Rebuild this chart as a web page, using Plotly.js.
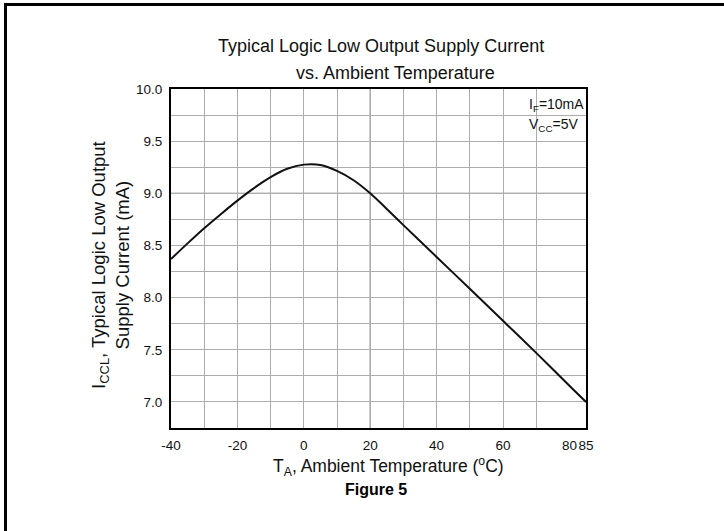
<!DOCTYPE html>
<html>
<head>
<meta charset="utf-8">
<script src="https://cdn.plot.ly/plotly-3.0.1.min.js"></script>
<style>
  html, body { margin: 0; padding: 0; background: #fff; }
  #wrap { position: relative; width: 724px; height: 531px; overflow: hidden; }
  #chart { position: absolute; left: 0; top: 0; width: 724px; height: 531px; }
  #frame { position: absolute; left: 4px; top: 3px; width: 760px; height: 560px;
           border-left: 3px solid #000; border-top: 3px solid #000; pointer-events: none; }
</style>
</head>
<body>
<div id="wrap">
  <div id="chart"></div>
  <div id="frame"></div>
</div>
<script>
// ---- data ----
const temperatureC = [-40, -35, -30, -25, -20, -15, -10, -5, 0, 5, 10, 15, 20, 25, 30, 40, 50, 60, 70, 80, 85];
const supplyCurrentMA = [8.37, 8.52, 8.665, 8.80, 8.93, 9.05, 9.155, 9.235, 9.275, 9.272, 9.215, 9.125, 9.00, 8.85, 8.695, 8.39, 8.085, 7.778, 7.47, 7.155, 7.00];

const xTickVals = [-40, -20, 0, 20, 40, 60, 80, 85];
const xTickText = ['-40', '-20', '0', '20', '40', '60', '80', '85'];
const xGridVals = [-30, -20, -10, 0, 10, 20, 30, 40, 50, 60, 70];
const yTickVals = [7.0, 7.5, 8.0, 8.5, 9.0, 9.5, 10.0];
const xRange = [-40, 85];
const yRange = [6.75, 10.0];
const darkGridX = 20;
const darkGridY = 9.0;

const titleLine1 = 'Typical Logic Low Output Supply Current';
const titleLine2 = 'vs. Ambient Temperature';
const yTitle = 'I<sub>CCL</sub>, Typical Logic Low Output<br>Supply Current (mA)';
const xTitle = 'T<sub>A</sub>, Ambient Temperature (<sup>o</sup>C)';
const figureLabel = '<b>Figure 5</b>';
const condition1 = 'I<sub>F</sub>=10mA';
const condition2 = 'V<sub>CC</sub>=5V';

// ---- styling ----
const FONT = 'Liberation Sans, Arial, Helvetica, sans-serif';
const gridColor = '#adadad';
const darkGrid = '#555555';

const curve = {
  x: temperatureC,
  y: supplyCurrentMA,
  type: 'scatter',
  mode: 'lines',
  line: { color: '#111', width: 2, shape: 'spline', smoothing: 0.8 },
  hoverinfo: 'skip',
  showlegend: false
};
// empty trace so the overlaid grid axis (x2) gets a subplot and draws its grid
const gridHolder = {
  x: [], y: [], xaxis: 'x2', yaxis: 'y', type: 'scatter', mode: 'lines',
  hoverinfo: 'skip', showlegend: false
};

const layout = {
  width: 724,
  height: 531,
  margin: { l: 171, r: 138, t: 89, b: 103, pad: 0 },
  paper_bgcolor: '#fff',
  plot_bgcolor: '#fff',
  showlegend: false,
  font: { family: FONT, color: '#111' },
  xaxis: {
    range: xRange,
    tickmode: 'array',
    tickvals: xTickVals,
    ticktext: xTickText,
    tickangle: 0,
    showgrid: false,
    zeroline: false,
    ticks: '',
    ticklabelstandoff: 4,
    showline: true,
    mirror: true,
    linecolor: '#000',
    linewidth: 2,
    tickfont: { family: FONT, size: 13.5, color: '#111' }
  },
  xaxis2: {
    overlaying: 'x',
    anchor: 'y',
    side: 'bottom',
    range: xRange,
    tickmode: 'array',
    tickvals: xGridVals,
    showticklabels: false,
    showgrid: true,
    gridcolor: gridColor,
    gridwidth: 1,
    zeroline: false,
    ticks: '',
    showline: false
  },
  yaxis: {
    range: yRange,
    tickmode: 'array',
    tickvals: yTickVals,
    tickformat: '.1f',
    showgrid: true,
    gridcolor: gridColor,
    gridwidth: 1,
    minor: { dtick: 0.25, tick0: 6.75, showgrid: true, gridcolor: gridColor, gridwidth: 1, ticks: '' },
    zeroline: false,
    ticks: '',
    ticklabelstandoff: 4,
    showline: true,
    mirror: true,
    linecolor: '#000',
    linewidth: 2,
    tickfont: { family: FONT, size: 13.5, color: '#111' }
  },
  shapes: [
    { type: 'line', xref: 'x', yref: 'paper', x0: darkGridX, x1: darkGridX, y0: 0, y1: 1,
      line: { color: darkGrid, width: 1 }, layer: 'between' },
    { type: 'line', xref: 'paper', yref: 'y', x0: 0, x1: 1, y0: darkGridY, y1: darkGridY,
      line: { color: darkGrid, width: 1 }, layer: 'between' },
    { type: 'rect', xref: 'paper', yref: 'paper', x0: 0.836, x1: 1, y0: 0.828, y1: 1,
      fillcolor: '#fff', line: { width: 0 }, layer: 'between' }
  ],
  annotations: [
    { text: titleLine1, xref: 'paper', yref: 'paper', x: 0.507, y: 1.126, xanchor: 'center', yanchor: 'middle',
      showarrow: false, font: { family: FONT, size: 18, color: '#111' } },
    { text: titleLine2, xref: 'paper', yref: 'paper', x: 0.540, y: 1.0466, xanchor: 'center', yanchor: 'middle',
      showarrow: false, font: { family: FONT, size: 18, color: '#111' } },
    { text: yTitle, xref: 'paper', yref: 'paper', x: -0.1446, y: 0.481, xanchor: 'center', yanchor: 'middle',
      textangle: -90, showarrow: false, font: { family: FONT, size: 18.5, color: '#111' } },
    { text: xTitle, xref: 'paper', yref: 'paper', x: 0.525, y: -0.1137, xanchor: 'center', yanchor: 'middle',
      showarrow: false, font: { family: FONT, size: 17.5, color: '#111' } },
    { text: figureLabel, xref: 'paper', yref: 'paper', x: 0.4928, y: -0.181, xanchor: 'center', yanchor: 'middle',
      showarrow: false, font: { family: FONT, size: 16, color: '#000' } },
    { text: condition1, xref: 'paper', yref: 'paper', x: 0.858, y: 0.952, xanchor: 'left', yanchor: 'middle',
      showarrow: false, font: { family: FONT, size: 14, color: '#111' } },
    { text: condition2, xref: 'paper', yref: 'paper', x: 0.858, y: 0.893, xanchor: 'left', yanchor: 'middle',
      showarrow: false, font: { family: FONT, size: 14, color: '#111' } }
  ]
};

Plotly.newPlot('chart', [curve, gridHolder], layout, { staticPlot: true, displayModeBar: false });
</script>
</body>
</html>
